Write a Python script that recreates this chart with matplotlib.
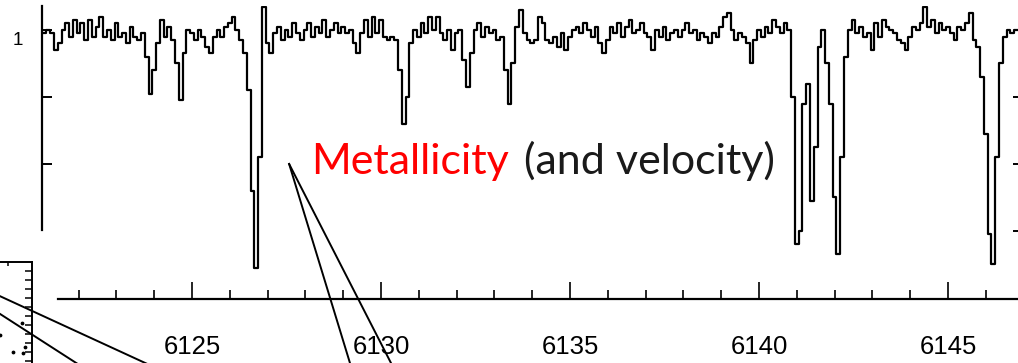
import matplotlib
matplotlib.use('Agg')
import matplotlib.pyplot as plt
import numpy as np

# ---------------- data ----------------
# spectrum sampled every 0.1 A, starting at 6121.0 A
wave_start = 6121.0
wave_step = 0.1
flux = [
    0.99, 0.99, 1.00, 0.99, 0.94, 0.96, 1.00, 1.02, 0.98, 1.03,   # 6121
    0.99, 1.02, 0.97, 1.03, 0.98, 1.01, 1.04, 0.98, 1.00, 0.97,   # 6122
    1.02, 0.98, 0.99, 0.96, 1.01, 0.98, 0.97, 0.99, 0.92, 0.81,   # 6123
    0.88, 0.96, 1.03, 0.98, 1.01, 0.97, 0.90, 0.79, 0.93, 1.00,   # 6124
    0.99, 0.97, 1.00, 0.98, 0.95, 0.93, 0.98, 1.00, 0.98, 1.01,   # 6125
    1.02, 1.04, 1.00, 0.97, 0.93, 0.82, 0.52, 0.29, 0.62, 1.07,   # 6126
    0.96, 0.93, 0.99, 1.01, 0.97, 1.00, 0.98, 1.02, 0.99, 0.97,   # 6127
    1.00, 1.02, 0.98, 1.01, 0.99, 1.03, 0.98, 1.00, 1.02, 0.99,   # 6128
    1.01, 0.99, 1.00, 0.96, 0.93, 0.99, 1.03, 0.98, 1.04, 0.99,   # 6129
    1.03, 0.98, 0.97, 0.98, 0.97, 0.88, 0.72, 0.80, 0.96, 1.00,   # 6130
    0.98, 1.02, 0.99, 1.04, 1.00, 1.04, 0.99, 0.97, 1.00, 0.94,   # 6131
    0.99, 1.00, 0.91, 0.83, 0.93, 1.00, 1.02, 0.98, 1.01, 0.99,   # 6132
    1.00, 0.97, 0.98, 0.88, 0.78, 0.90, 1.01, 1.06, 0.99, 0.97,   # 6133
    0.96, 0.97, 1.04, 1.02, 0.97, 0.96, 0.98, 0.95, 0.99, 0.94,   # 6134
    0.98, 1.00, 1.01, 0.99, 1.02, 1.00, 0.98, 1.01, 0.96, 0.93,   # 6135
    0.97, 1.01, 0.99, 1.02, 0.98, 1.01, 1.03, 0.99, 1.00, 1.02,   # 6136
    0.99, 0.98, 0.94, 1.00, 0.98, 1.01, 0.97, 0.99, 1.00, 0.98,   # 6137
    1.00, 1.02, 0.99, 1.00, 0.97, 0.99, 0.98, 0.96, 0.99, 0.98,   # 6138
    1.01, 1.04, 1.05, 1.00, 0.97, 0.99, 0.98, 0.96, 0.90, 0.97,   # 6139
    1.00, 0.98, 1.01, 0.99, 1.03, 1.01, 0.99, 1.02, 1.00, 0.80,   # 6140
    0.36, 0.40, 0.78, 0.84, 0.49, 0.65, 0.95, 1.00, 0.90, 0.78,   # 6141
    0.50, 0.33, 0.62, 0.92, 1.00, 1.03, 0.99, 1.01, 0.98, 0.99,   # 6142
    0.94, 1.02, 0.98, 1.03, 1.01, 1.00, 0.99, 0.97, 0.96, 0.94,   # 6143
    0.98, 1.01, 1.00, 1.02, 1.07, 1.01, 1.03, 0.99, 1.02, 1.00,   # 6144
    1.01, 0.99, 0.97, 1.01, 1.00, 1.02, 1.05, 0.97, 0.95, 0.86,   # 6145
    0.69, 0.39, 0.30, 0.62, 0.90, 0.98, 1.00, 0.99, 1.00, 1.00,   # 6146
]
wave = wave_start + wave_step * np.arange(len(flux))

major_ticks = [6125, 6130, 6135, 6140, 6145]
left_ticks = [1.0, 0.8, 0.6]
right_ticks = [0.8, 0.6, 0.4]

# leader lines (wavelength, flux) pairs
leader_x = [[6119.39, 6124.34], [6119.39, 6122.35], [6127.57, 6129.26], [6127.57, 6130.40]]
leader_y = [[0.233, -0.024], [0.191, -0.024], [0.60, -0.024], [0.60, -0.024]]

# bits of the cut-off inset in the lower left
inset_x = [9.0, 9.3, 9.1, 8.1, 6.8]
inset_y = [11.2, 8.6, 7.9, 8.0, 9.9]

W, H = 1018, 363
fig = plt.figure(figsize=(W / 100, H / 100), dpi=100)

# ---------------- spectrum ----------------
ax = fig.add_axes([42 / W, (H - 300) / H, (1023 - 42) / W, 294 / H])
ax.set_facecolor('none')
ax.plot(wave, flux, color='black', lw=1.6, drawstyle='steps-mid')
ax.set_xlim(6121.032, 6146.984)
ax.set_ylim(0.194, 1.0716)
for s in ['top', 'bottom', 'right']:
    ax.spines[s].set_visible(False)
ax.spines['left'].set_linewidth(1.6)
ax.spines['left'].set_bounds(0.403, 1.0716)
ax.set_xticks([])
ax.set_yticks(left_ticks)
ax.set_yticklabels([])
ax.tick_params(axis='y', direction='in', length=7, width=1.4)
ax.text(6120.40, 0.97, '1', fontsize=13.5, family='Liberation Sans',
        ha='center', va='center', clip_on=False)

ax2 = ax.twinx()
ax2.set_ylim(ax.get_ylim())
for s in ['top', 'bottom', 'left', 'right']:
    ax2.spines[s].set_visible(False)
ax2.set_yticks(right_ticks)
ax2.set_yticklabels([])
ax2.tick_params(axis='y', direction='in', length=7, width=1.4)

# ---------------- wavelength axis ----------------
axb = fig.add_axes([58 / W, (H - 299) / H, (1030 - 58) / W, 0.1])
axb.set_facecolor('none')
axb.set_xlim(6121.455, 6147.17)
for s in ['top', 'left', 'right']:
    axb.spines[s].set_visible(False)
axb.spines['bottom'].set_linewidth(1.6)
axb.set_yticks([])
axb.set_xticks(major_ticks)
axb.set_xticks(np.arange(6122, 6148), minor=True)
axb.set_xticklabels([str(t) for t in major_ticks], family='Liberation Sans', fontsize=18.5)
axb.tick_params(axis='x', which='major', direction='in', length=12, width=1.2, pad=26)
axb.tick_params(axis='x', which='minor', direction='in', length=6.5, width=1.2)

# ---------------- inset fragment ----------------
axi = fig.add_axes([-68 / W, (H - 424) / H, 100 / W, 162 / H])
axi.set_facecolor('none')
axi.set_xlim(0, 10)
axi.set_ylim(0, 18)
axi.scatter(inset_x, inset_y, s=3, color='black')
for s in ['left', 'bottom']:
    axi.spines[s].set_visible(False)
for s in ['top', 'right']:
    axi.spines[s].set_linewidth(1.4)
axi.yaxis.tick_right()
axi.set_yticks(np.arange(1, 18))
axi.set_yticklabels([])
axi.xaxis.tick_top()
axi.set_xticks([7.6])
axi.set_xticklabels([])
axi.tick_params(axis='y', direction='in', length=5, width=1.1)
axi.tick_params(axis='x', direction='in', length=3, width=1.1)

# ---------------- annotation ----------------
for lx, ly in zip(leader_x, leader_y):
    ax.plot(lx, ly, color='black', lw=1.4, clip_on=False)

t1 = ax.text(6128.15, 0.570, 'Metallicity', color='#ff0000', fontsize=31,
             family='Lato', va='baseline')
fig.canvas.draw()
bb = t1.get_window_extent()
x_end = ax.transData.inverted().transform((bb.x1 + 4, bb.y0))[0]
ax.text(x_end, 0.570, ' (and velocity)', color='#1a1a1a', fontsize=31,
        family='Lato', va='baseline')

fig.savefig('out.png', dpi=100)
